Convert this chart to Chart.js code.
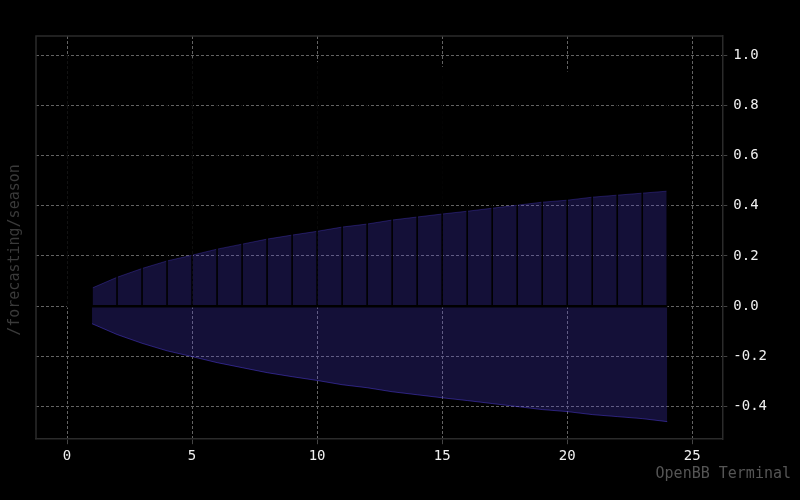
<!DOCTYPE html>
<html>
<head>
<meta charset="utf-8">
<script src="https://cdn.jsdelivr.net/npm/chart.js@4.4.1/dist/chart.umd.min.js"></script>
<style>
  html, body { margin: 0; padding: 0; background: #000; }
  #wrap { width: 800px; height: 500px; }
</style>
</head>
<body>
<div id="wrap"><canvas id="c" width="800" height="500"></canvas></div>
<script>
// ---- data ----
const lags = [0, 1, 2, 3, 4, 5, 6, 7, 8, 9, 10, 11, 12, 13, 14, 15, 16, 17, 18, 19, 20, 21, 22, 23, 24];
const acfValues = [1.0, 0.997, 0.994, 0.992, 0.989, 0.987, 0.984, 0.981, 0.978, 0.975, 0.972,
                   0.968, 0.965, 0.961, 0.958, 0.954, 0.950, 0.947, 0.943, 0.939, 0.935,
                   0.931, 0.927, 0.923, 0.919];
const bandLags = [1, 2, 3, 4, 5, 6, 7, 8, 9, 10, 11, 12, 13, 14, 15, 16, 17, 18, 19, 20, 21, 22, 23, 24];
const bandUpper = [0.072, 0.115, 0.150, 0.180, 0.203, 0.227, 0.247, 0.267, 0.283, 0.298, 0.315, 0.327,
                   0.343, 0.355, 0.367, 0.378, 0.390, 0.402, 0.414, 0.422, 0.434, 0.442, 0.450, 0.458];
const bandLower = [-0.070, -0.113, -0.148, -0.178, -0.201, -0.225, -0.245, -0.265, -0.281, -0.296, -0.313, -0.325,
                   -0.341, -0.353, -0.365, -0.376, -0.388, -0.400, -0.412, -0.420, -0.432, -0.440, -0.448, -0.460];
const xTicks = [0, 5, 10, 15, 20, 25];
const yTicks = [-0.4, -0.2, 0.0, 0.2, 0.4, 0.6, 0.8, 1.0];
const yTitle = '/forecasting/season';
const watermark = 'OpenBB Terminal';

// ---- build datasets ----
const stemPoints = [];
lags.forEach((k, i) => {
  stemPoints.push({x: k, y: 0});
  stemPoints.push({x: k, y: acfValues[i]});
  stemPoints.push({x: k, y: null});
});
const basePoints = [{x: lags[0], y: 0}, {x: lags[lags.length - 1], y: 0}];
const upperPoints = bandLags.map((k, i) => ({x: k, y: bandUpper[i]}));
const lowerPoints = bandLags.map((k, i) => ({x: k, y: bandLower[i]}));

const MONO = "'DejaVu Sans Mono', 'Liberation Mono', monospace";

const framePlugin = {
  id: 'frame',
  beforeDraw(chart) {
    const ctx = chart.ctx;
    ctx.save();
    ctx.fillStyle = '#000';
    ctx.fillRect(0, 0, chart.width, chart.height);
    ctx.restore();
  },
  afterDraw(chart) {
    const {ctx, chartArea: a} = chart;
    ctx.save();
    ctx.strokeStyle = '#2b2b2b';
    ctx.lineWidth = 1.5;
    ctx.beginPath();
    ctx.moveTo(a.left, a.bottom);
    ctx.lineTo(a.left, a.top);
    ctx.lineTo(a.right, a.top);
    ctx.stroke();
    // y title
    ctx.fillStyle = '#3a3a3a';
    ctx.font = '15px ' + MONO;
    ctx.textAlign = 'center';
    ctx.textBaseline = 'middle';
    ctx.translate(15, 250);
    ctx.rotate(-Math.PI / 2);
    ctx.fillText(yTitle, 0, 0);
    ctx.restore();
    // watermark
    ctx.save();
    ctx.fillStyle = '#555555';
    ctx.font = '15px ' + MONO;
    ctx.textAlign = 'right';
    ctx.textBaseline = 'middle';
    ctx.fillText(watermark, 791, 474);
    ctx.restore();
  }
};

new Chart(document.getElementById('c'), {
  type: 'line',
  data: {
    datasets: [
      { data: stemPoints, borderColor: '#000', borderWidth: 1.6, pointRadius: 0, spanGaps: false, fill: false },
      { data: basePoints, borderColor: '#000', borderWidth: 2.5, pointRadius: 0, fill: false },
      { data: upperPoints, borderColor: 'rgba(88,68,244,0.30)', borderWidth: 1, pointRadius: 0,
        backgroundColor: 'rgba(88,68,244,0.23)', fill: '+1', tension: 0 },
      { data: lowerPoints, borderColor: 'rgba(88,68,244,0.45)', borderWidth: 1, pointRadius: 0, fill: false, tension: 0 }
    ]
  },
  options: {
    responsive: false,
    animation: false,
    devicePixelRatio: 1,
    layout: { padding: { left: 36, top: 36, right: 27, bottom: 31 } },
    plugins: { legend: { display: false }, tooltip: { enabled: false } },
    scales: {
      x: {
        type: 'linear', position: 'bottom', min: -1.24, max: 26.2,
        afterBuildTicks: s => { s.ticks = xTicks.map(v => ({value: v})); },
        grid: { color: '#636363', lineWidth: 1, drawTicks: true, tickLength: 5, tickColor: '#444', tickBorderDash: [] },
        border: { display: true, color: '#2b2b2b', width: 1.5, dash: [3, 2] },
        ticks: { color: '#f0f0f0', font: { family: MONO, size: 14 }, padding: 4, maxRotation: 0,
                 callback: v => String(v) }
      },
      y: {
        type: 'linear', position: 'right', min: -0.53, max: 1.076,
        afterBuildTicks: s => { s.ticks = yTicks.map(v => ({value: v})); },
        grid: { color: '#636363', lineWidth: 1, drawTicks: true, tickLength: 5, tickColor: '#444', tickBorderDash: [] },
        border: { display: true, color: '#2b2b2b', width: 1.5, dash: [3, 2] },
        ticks: { color: '#f0f0f0', font: { family: MONO, size: 14 }, padding: 6,
                 callback: v => Number(v).toFixed(1) }
      }
    }
  },
  plugins: [framePlugin]
});
</script>
</body>
</html>
